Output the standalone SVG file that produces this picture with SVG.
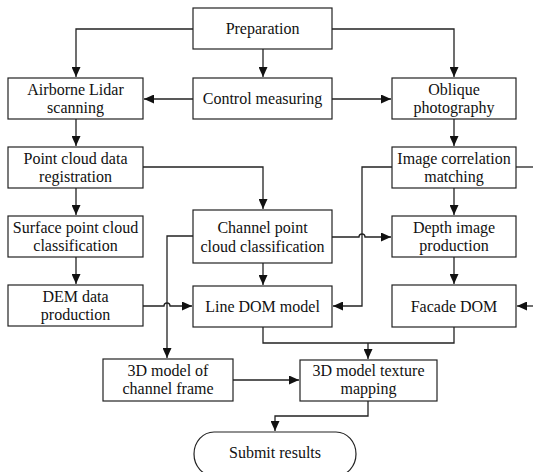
<svg xmlns="http://www.w3.org/2000/svg" width="533" height="472" viewBox="0 0 533 472">
<defs>
<style>
.box{fill:#fff;stroke:#222;stroke-width:1.2}
.t{font-size:16px;fill:#111;text-anchor:middle}
.c{fill:none;stroke:#222;stroke-width:1.3}
</style>
<marker id="ah" markerUnits="userSpaceOnUse" markerWidth="11" markerHeight="9" refX="10" refY="4.5" orient="auto">
<path d="M0,0 L10,4.5 L0,9 z" fill="#111"/>
</marker>
</defs>
<rect width="533" height="472" fill="#fff"/>
<g id="connectors">
<path class="c" d="M193,29 H76 V77" marker-end="url(#ah)"/>
<path class="c" d="M332,29 H454 V77" marker-end="url(#ah)"/>
<path class="c" d="M263,49 V77" marker-end="url(#ah)"/>
<path class="c" d="M193,99 H144" marker-end="url(#ah)"/>
<path class="c" d="M332,99 H391" marker-end="url(#ah)"/>
<path class="c" d="M76,119 V146" marker-end="url(#ah)"/>
<path class="c" d="M143,167 H263 V209" marker-end="url(#ah)"/>
<path class="c" d="M76,188 V215" marker-end="url(#ah)"/>
<path class="c" d="M76,257 V284" marker-end="url(#ah)"/>
<path class="c" d="M143,306 H164 a3,3 0 0 1 6,0 H192" marker-end="url(#ah)"/>
<path class="c" d="M193,236 H167 V358" marker-end="url(#ah)"/>
<path class="c" d="M263,263 V285" marker-end="url(#ah)"/>
<path class="c" d="M332,237 H359 a3,3 0 0 1 6,0 H391" marker-end="url(#ah)"/>
<path class="c" d="M392,167 H362 V306 H333" marker-end="url(#ah)"/>
<path class="c" d="M516,167 H533"/>
<path class="c" d="M454,119 V146" marker-end="url(#ah)"/>
<path class="c" d="M454,188 V215" marker-end="url(#ah)"/>
<path class="c" d="M454,257 V284" marker-end="url(#ah)"/>
<path class="c" d="M533,306 H517" marker-end="url(#ah)"/>
<path class="c" d="M263,327 V343 H454 V327"/>
<path class="c" d="M368,343 V359" marker-end="url(#ah)"/>
<path class="c" d="M233,380 H299" marker-end="url(#ah)"/>
<path class="c" d="M368,401 V416 H275 V431" marker-end="url(#ah)"/>
</g>
<g font-family="'Liberation Serif', 'Times New Roman', Tinos, serif">
<g id="preparation"><rect class="box" x="193" y="8" width="139" height="41"/><text class="t" x="262.5" y="34">Preparation</text></g>
<g id="airborne"><rect class="box" x="8" y="78" width="135" height="41"/><text class="t" x="75.5" y="94.5">Airborne Lidar</text><text class="t" x="75.5" y="112.5">scanning</text></g>
<g id="control"><rect class="box" x="193" y="78" width="139" height="41"/><text class="t" x="262.5" y="104">Control measuring</text></g>
<g id="oblique"><rect class="box" x="392" y="78" width="124" height="41"/><text class="t" x="454" y="94.5">Oblique</text><text class="t" x="454" y="112.5">photography</text></g>
<g id="registration"><rect class="box" x="8" y="147" width="135" height="41"/><text class="t" x="75.5" y="163.5">Point cloud data</text><text class="t" x="75.5" y="181.5">registration</text></g>
<g id="image-correlation"><rect class="box" x="392" y="147" width="124" height="41"/><text class="t" x="454" y="163.5">Image correlation</text><text class="t" x="454" y="181.5">matching</text></g>
<g id="surface"><rect class="box" x="8" y="216" width="135" height="41"/><text class="t" x="75.5" y="232.5">Surface point cloud</text><text class="t" x="75.5" y="250.5">classification</text></g>
<g id="channel"><rect class="box" x="193" y="210" width="139" height="53"/><text class="t" x="262.5" y="232.5">Channel point</text><text class="t" x="262.5" y="251.5">cloud classification</text></g>
<g id="depth"><rect class="box" x="392" y="216" width="124" height="41"/><text class="t" x="454" y="232.5">Depth image</text><text class="t" x="454" y="250.5">production</text></g>
<g id="dem"><rect class="box" x="8" y="285" width="135" height="41"/><text class="t" x="75.5" y="301.5">DEM data</text><text class="t" x="75.5" y="319.5">production</text></g>
<g id="line-dom"><rect class="box" x="193" y="286" width="139" height="41"/><text class="t" x="262.5" y="312">Line DOM model</text></g>
<g id="facade"><rect class="box" x="392" y="285" width="124" height="42"/><text class="t" x="454" y="311.5">Facade DOM</text></g>
<g id="frame"><rect class="box" x="103" y="359" width="130" height="42"/><text class="t" x="168" y="375.5">3D model of</text><text class="t" x="168" y="394">channel frame</text></g>
<g id="texture"><rect class="box" x="300" y="360" width="137" height="41"/><text class="t" x="368.5" y="376">3D model texture</text><text class="t" x="368.5" y="394">mapping</text></g>
<g id="submit"><rect class="box" x="194" y="432" width="162" height="44" rx="20" ry="22"/><text class="t" x="275" y="458">Submit results</text></g>
</g>
</svg>
